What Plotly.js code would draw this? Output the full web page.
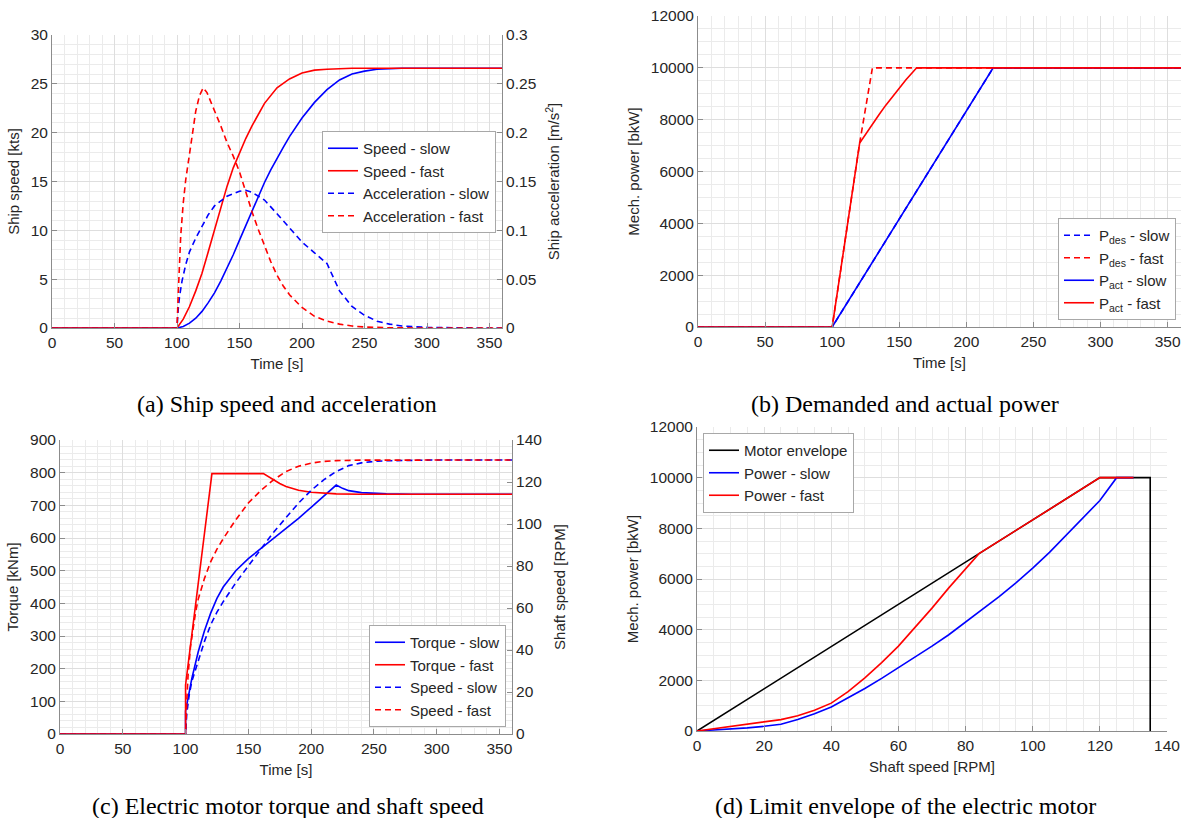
<!DOCTYPE html>
<html>
<head>
<meta charset="utf-8">
<script src="https://cdn.plot.ly/plotly-3.0.1.min.js"></script>
<style>
  html, body { margin: 0; padding: 0; background: #ffffff; }
  #fig { width: 1182px; height: 818px; }
</style>
</head>
<body>
<div id="fig"></div>
<script>
// ---------- (a) Ship speed [kts] and acceleration [m/s^2] vs time [s] ----------
const tSpeedSlow = [0, 100, 105, 110, 115, 120, 125, 130, 135, 140, 145, 150, 155, 160, 165, 170, 175, 180, 185, 190, 200, 210, 220, 230, 240, 250, 260, 270, 280, 300, 360];
const speedSlow  = [0, 0, 0.15, 0.5, 1.0, 1.7, 2.6, 3.6, 4.8, 6.1, 7.5, 9.0, 10.5, 12.0, 13.5, 14.9, 16.2, 17.4, 18.5, 19.6, 21.5, 23.1, 24.4, 25.4, 26.0, 26.3, 26.5, 26.55, 26.6, 26.6, 26.6];

const tSpeedFast = [0, 100, 105, 110, 115, 120, 125, 130, 135, 140, 145, 150, 155, 160, 170, 180, 190, 200, 210, 220, 230, 240, 360];
const speedFast  = [0, 0, 0.9, 2.2, 3.8, 5.6, 7.8, 10.0, 12.3, 14.5, 16.4, 18.0, 19.4, 20.7, 23.0, 24.6, 25.5, 26.1, 26.4, 26.5, 26.55, 26.6, 26.6];

const tAccSlow = [0, 100, 101, 102, 104, 105, 107, 110, 115, 120, 125, 130, 140, 150, 155, 160, 170, 180, 190, 200, 210, 220, 225, 230, 240, 250, 260, 270, 280, 300, 330, 360];
const accSlow  = [0, 0, 0.02, 0.032, 0.048, 0.055, 0.065, 0.078, 0.092, 0.104, 0.116, 0.125, 0.135, 0.140, 0.141, 0.139, 0.131, 0.117, 0.102, 0.088, 0.077, 0.066, 0.052, 0.038, 0.022, 0.013, 0.007, 0.004, 0.002, 0.0006, 0.0001, 0];

const tAccFast = [0, 100, 101, 102, 103, 105, 107, 110, 113, 115, 118, 121, 124, 127, 130, 135, 140, 145, 150, 155, 160, 165, 170, 175, 180, 185, 190, 200, 210, 220, 230, 240, 250, 270, 300, 360];
const accFast  = [0, 0, 0.035, 0.07, 0.095, 0.128, 0.152, 0.178, 0.205, 0.222, 0.238, 0.246, 0.241, 0.232, 0.222, 0.207, 0.190, 0.176, 0.160, 0.139, 0.119, 0.101, 0.084, 0.068, 0.054, 0.043, 0.034, 0.021, 0.012, 0.007, 0.004, 0.002, 0.001, 0.0002, 0, 0];

// ---------- (b) Demanded and actual mechanical power [bkW] vs time [s] ----------
const tPdesSlow = [0, 100, 220, 360];
const pDesSlow  = [0, 0, 10000, 10000];
const tPdesFast = [0, 100, 120.5, 130, 360];
const pDesFast  = [0, 0, 7100, 10000, 10000];
const tPactSlow = [0, 100, 220, 360];
const pActSlow  = [0, 0, 10000, 10000];
const tPactFast = [0, 100, 120.5, 125, 130, 135, 140, 145, 150, 155, 160, 163, 360];
const pActFast  = [0, 0, 7100, 7450, 7830, 8200, 8560, 8900, 9230, 9540, 9830, 10000, 10000];

// ---------- (c) Motor torque [kNm] and shaft speed [RPM] vs time [s] ----------
const tTorqueSlow = [0, 100, 100, 102, 105, 110, 115, 120, 125, 130, 140, 150, 160, 170, 180, 190, 200, 210, 220, 225, 230, 240, 250, 260, 280, 360];
const torqueSlow  = [0, 0, 70, 115, 170, 250, 315, 370, 415, 450, 500, 537, 568, 598, 628, 660, 694, 728, 762, 752, 745, 739, 736, 735, 734, 734];
const tTorqueFast = [0, 100, 100, 121, 162, 165, 170, 175, 180, 190, 200, 210, 220, 240, 360];
const torqueFast  = [0, 0, 150, 797, 797, 790, 778, 767, 758, 746, 740, 737, 735, 734, 734];
const tShaftSlow  = [0, 100, 101, 103, 105, 110, 115, 120, 125, 130, 140, 150, 160, 170, 180, 190, 200, 210, 220, 230, 240, 250, 260, 280, 300, 360];
const shaftSlow   = [0, 0, 10, 19, 25, 35, 44, 52, 58, 63, 72, 80, 88, 96, 103, 110, 116, 121, 125, 127.8, 129.1, 129.8, 130.1, 130.4, 130.5, 130.5];
const tShaftFast  = [0, 100, 101, 102, 104, 106, 108, 110, 115, 120, 125, 130, 140, 150, 160, 170, 180, 190, 200, 210, 220, 240, 360];
const shaftFast   = [0, 0, 16, 28, 42, 51, 58, 64, 74, 82, 88, 93, 102, 110, 116, 121, 125, 127.5, 129, 129.8, 130.2, 130.4, 130.5];

// ---------- (d) Power [bkW] vs shaft speed [RPM] with the motor limit envelope ----------
const envSpeed = [0, 120, 135, 135];
const envPower = [0, 10000, 10000, 0];
const rpmSlow   = [0, 5, 10, 15, 20, 25, 30, 35, 40, 45, 50, 55, 60, 65, 70, 75, 80, 85, 90, 95, 100, 105, 110, 115, 120, 125, 130];
const powerSlow = [0, 35, 80, 125, 185, 265, 450, 680, 950, 1300, 1680, 2080, 2500, 2920, 3350, 3800, 4290, 4780, 5300, 5850, 6430, 7050, 7720, 8400, 9100, 10000, 10000];
const rpmFast   = [0, 5, 10, 15, 20, 25, 30, 35, 40, 45, 50, 55, 60, 65, 70, 75, 80, 84, 120, 130];
const powerFast = [0, 90, 170, 250, 340, 450, 600, 820, 1100, 1550, 2100, 2700, 3350, 4080, 4850, 5650, 6400, 7000, 10000, 10000];

// ---------- styling ----------
const W = 1182, H = 818;
const SANS = '"Liberation Sans", Arial, Helvetica, sans-serif';
const SERIF = '"Liberation Serif", "Times New Roman", serif';
const TXT = '#262626';
const AXC = '#8c8c8c';
const BLUE = '#0000ff', RED = '#ff0000', BLACK = '#000000';
const LW = 1.6, DASH = '6px,4px';

const hx = (l, r) => [l / W, r / W];
const vy = (top, bottom) => [1 - bottom / H, 1 - top / H];

function trace(x, y, color, dashed, name, xa, ya, lg) {
  return {
    type: 'scatter', mode: 'lines', x: x, y: y, name: name,
    xaxis: xa, yaxis: ya, legend: lg,
    line: { color: color, width: LW, dash: dashed ? DASH : 'solid' },
    hoverinfo: 'skip'
  };
}

function baseAxis(range, dtick, minorDtick, title, standoff) {
  return {
    range: range, autorange: false, dtick: dtick, tick0: 0,
    showline: true, linecolor: AXC, linewidth: 1,
    ticks: 'inside', ticklen: 5, tickwidth: 1, tickcolor: AXC,
    showgrid: true, gridcolor: '#dedede', gridwidth: 1,
    minor: { dtick: minorDtick, tick0: 0, showgrid: true, gridcolor: '#ebebeb', gridwidth: 1, ticks: '' },
    zeroline: false, fixedrange: true, exponentformat: 'none', separatethousands: false,
    tickfont: { family: SANS, size: 15.5, color: TXT },
    title: { text: title, font: { family: SANS, size: 15, color: TXT }, standoff: standoff }
  };
}
function xAxis(domain, anchor, range, dtick, minorDtick, title) {
  return Object.assign(baseAxis(range, dtick, minorDtick, title, 8), { domain: domain, anchor: anchor, tickformat: 'd' });
}
function yAxis(domain, anchor, range, dtick, minorDtick, title) {
  return Object.assign(baseAxis(range, dtick, minorDtick, title, 7), { domain: domain, anchor: anchor, tickformat: 'd' });
}
function rightAxis(anchor, over, range, dtick, title) {
  const ax = baseAxis(range, dtick, dtick, title, 13);
  ax.showgrid = false;
  ax.minor = { showgrid: false, ticks: '' };
  return Object.assign(ax, { anchor: anchor, overlaying: over, side: 'right' });
}
function legendBox(x, y, xanchor, yanchor) {
  return {
    x: x, y: y, xanchor: xanchor, yanchor: yanchor,
    bgcolor: '#ffffff', bordercolor: '#a8a8a8', borderwidth: 1,
    font: { family: SANS, size: 15, color: TXT },
    tracegroupgap: 0, itemwidth: 30, itemclick: false, itemdoubleclick: false
  };
}

const data = [
  trace(tSpeedSlow, speedSlow, BLUE, false, 'Speed - slow', 'x', 'y', 'legend'),
  trace(tSpeedFast, speedFast, RED, false, 'Speed - fast', 'x', 'y', 'legend'),
  trace(tAccSlow, accSlow, BLUE, true, 'Acceleration - slow', 'x', 'y2', 'legend'),
  trace(tAccFast, accFast, RED, true, 'Acceleration - fast', 'x', 'y2', 'legend'),

  trace(tPdesSlow, pDesSlow, BLUE, true, 'P<sub>des</sub> - slow', 'x2', 'y3', 'legend2'),
  trace(tPdesFast, pDesFast, RED, true, 'P<sub>des</sub> - fast', 'x2', 'y3', 'legend2'),
  trace(tPactSlow, pActSlow, BLUE, false, 'P<sub>act</sub> - slow', 'x2', 'y3', 'legend2'),
  trace(tPactFast, pActFast, RED, false, 'P<sub>act</sub> - fast', 'x2', 'y3', 'legend2'),

  trace(tTorqueSlow, torqueSlow, BLUE, false, 'Torque - slow', 'x3', 'y4', 'legend3'),
  trace(tTorqueFast, torqueFast, RED, false, 'Torque - fast', 'x3', 'y4', 'legend3'),
  trace(tShaftSlow, shaftSlow, BLUE, true, 'Speed - slow', 'x3', 'y5', 'legend3'),
  trace(tShaftFast, shaftFast, RED, true, 'Speed - fast', 'x3', 'y5', 'legend3'),

  trace(envSpeed, envPower, BLACK, false, 'Motor envelope', 'x4', 'y6', 'legend4'),
  trace(rpmSlow, powerSlow, BLUE, false, 'Power - slow', 'x4', 'y6', 'legend4'),
  trace(rpmFast, powerFast, RED, false, 'Power - fast', 'x4', 'y6', 'legend4')
];

function caption(text, cx, cy) {
  return {
    text: text, xref: 'paper', yref: 'paper', x: cx / W, y: 1 - cy / H,
    xanchor: 'center', yanchor: 'middle', showarrow: false,
    font: { family: SERIF, size: 24, color: '#000000' }
  };
}

const layout = {
  width: W, height: H,
  margin: { l: 0, r: 0, t: 0, b: 0 },
  paper_bgcolor: '#ffffff', plot_bgcolor: '#ffffff',
  font: { family: SANS, size: 15, color: TXT },
  showlegend: true,

  xaxis:  xAxis(hx(52, 502), 'y', [0, 360], 50, 10, 'Time [s]'),
  yaxis:  yAxis(vy(35, 328), 'x', [0, 30], 5, 1, 'Ship speed [kts]'),
  yaxis2: rightAxis('x', 'y', [0, 0.3], 0.05, 'Ship acceleration [m/s<sup>2</sup>]'),

  xaxis2: xAxis(hx(698, 1181), 'y3', [0, 360], 50, 10, 'Time [s]'),
  yaxis3: yAxis(vy(16, 327), 'x2', [0, 12000], 2000, 500, 'Mech. power [bkW]'),

  xaxis3: xAxis(hx(60, 512), 'y4', [0, 360], 50, 10, 'Time [s]'),
  yaxis4: yAxis(vy(440, 734), 'x3', [0, 900], 100, 20, 'Torque [kNm]'),
  yaxis5: rightAxis('x3', 'y4', [0, 140], 20, 'Shaft speed [RPM]'),

  xaxis4: xAxis(hx(697, 1167), 'y6', [0, 140], 20, 5, 'Shaft speed [RPM]'),
  yaxis6: yAxis(vy(427, 731), 'x4', [0, 12000], 2000, 500, 'Mech. power [bkW]'),

  legend:  legendBox(496 / W, 1 - 182 / H, 'right', 'middle'),
  legend2: legendBox(1176 / W, 1 - 320 / H, 'right', 'bottom'),
  legend3: legendBox(506 / W, 1 - 727 / H, 'right', 'bottom'),
  legend4: legendBox(703 / W, 1 - 433 / H, 'left', 'top'),

  annotations: [
    caption('(a) Ship speed and acceleration', 287, 404),
    caption('(b) Demanded and actual power', 905, 404),
    caption('(c) Electric motor torque and shaft speed', 288, 806),
    caption('(d) Limit envelope of the electric motor', 905, 806)
  ]
};

Plotly.newPlot('fig', data, layout, { staticPlot: true, displayModeBar: false });
</script>
</body>
</html>
